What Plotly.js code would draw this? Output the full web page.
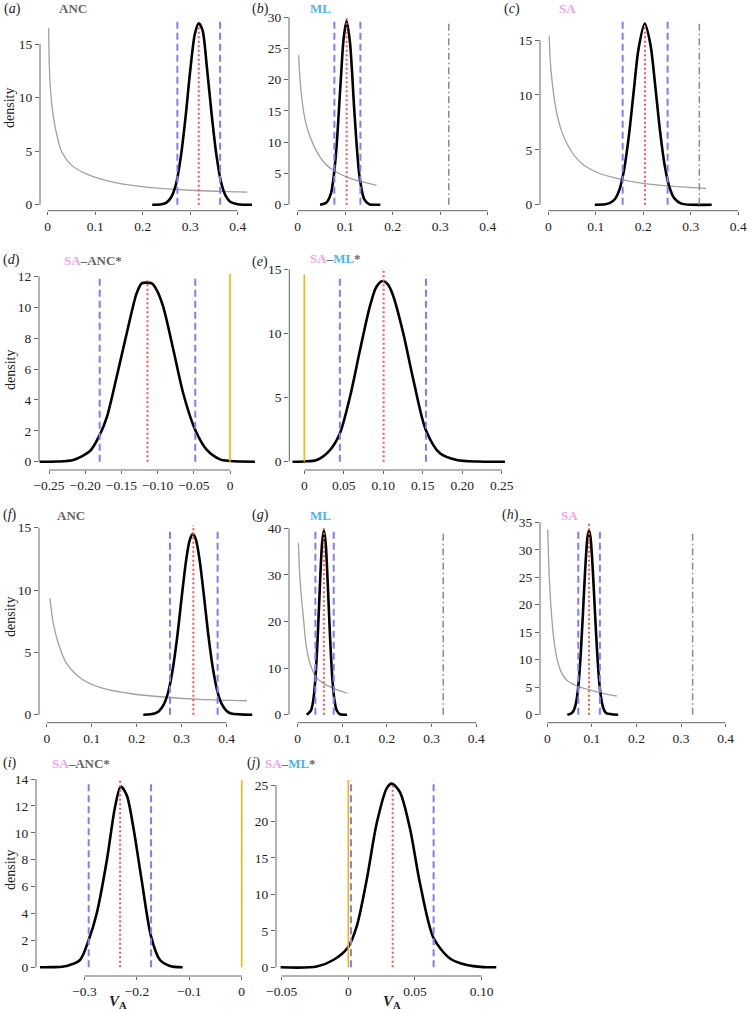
<!DOCTYPE html>
<html><head><meta charset="utf-8">
<script src="https://cdn.plot.ly/plotly-3.0.1.min.js"></script>
<style>html,body{margin:0;padding:0;background:#fff}</style>
</head><body><div id="chart" style="width:756px;height:1013px"></div>
<script>
// ---------- data ----------
// (a) ANC
const aPostX = [0.22,0.24,0.25,0.26,0.27,0.28,0.29,0.30,0.31,0.318,0.326,0.335,0.345,0.355,0.365,0.375,0.385,0.40,0.43];
const aPostY = [0,0.05,0.2,0.7,1.9,4.4,8.1,12.5,16.0,16.95,16.3,12.9,8.5,4.7,2.1,0.8,0.25,0.05,0];
const aPriorX = [0.002,0.005,0.012,0.022,0.03,0.05,0.08,0.12,0.17,0.23,0.30,0.36,0.42];
const aPriorY = [16.5,11.3,8.2,6.0,4.9,3.7,2.9,2.3,1.85,1.55,1.35,1.25,1.18];
const aCI = [0.273,0.363]; const aMean = 0.318;
// (b) ML
const bPostX = [0.047,0.06,0.07,0.08,0.09,0.097,0.103,0.11,0.12,0.13,0.14,0.15,0.174];
const bPostY = [0,0.3,1.8,7.6,19.1,26.8,29.4,26,14.1,4.6,0.9,0.1,0];
const bPriorX = [0.002,0.005,0.012,0.019,0.026,0.04,0.0575,0.075,0.11,0.145,0.166];
const bPriorY = [23.9,20,15.1,12.5,10.9,8.5,6.6,5.5,4.2,3.5,3.1];
const bCI = [0.0772,0.132]; const bMean = 0.103; const bRef = 0.318;
// (c) SA
const cPostX = [0.098,0.12,0.13,0.14,0.15,0.16,0.17,0.18,0.19,0.203,0.215,0.225,0.235,0.245,0.255,0.265,0.28,0.344];
const cPostY = [0,0.04,0.16,0.5,1.4,3.3,6.4,10.4,14.2,16.5,14.6,10.9,6.8,3.6,1.6,0.6,0.1,0];
const cPriorX = [0.002,0.004,0.008,0.013,0.019,0.028,0.04,0.056,0.075,0.1,0.13,0.17,0.228,0.28,0.332];
const cPriorY = [15.4,13.2,11.2,9.5,8.1,6.7,5.5,4.4,3.6,3.0,2.55,2.15,1.8,1.62,1.49];
const cCI = [0.1565,0.2512]; const cMean = 0.2035; const cRef = 0.318;
// (d) SA-ANC
const dPostX = [-0.263,-0.24,-0.2164,-0.193,-0.18,-0.17,-0.1565,-0.1427,-0.129,-0.122,-0.115,-0.108,-0.101,-0.092,-0.078,-0.0645,-0.048,-0.032,-0.0138,0.0,0.0345];
const dPostY = [0,0.01,0.11,0.71,1.73,2.9,5.5,8.3,10.9,11.55,11.6,11.55,11.1,10.0,7.2,4.4,2.05,0.76,0.15,0.05,0];
const dCI = [-0.18,-0.048]; const dMean = -0.114;
// (e) SA-ML
const ePostX = [-0.015,0.0,0.0157,0.0325,0.045,0.058,0.0705,0.083,0.091,0.099,0.106,0.1127,0.1253,0.138,0.1537,0.1718,0.193,0.22,0.254];
const ePostY = [0,0.02,0.13,0.91,2.2,5.1,8.7,12.1,13.6,14.08,13.8,12.9,10.0,6.4,2.5,0.65,0.13,0.01,0];
const eCI = [0.045,0.154]; const eMean = 0.1004;
// (f) ANC
const fPostX = [0.2147,0.24,0.25,0.26,0.27,0.28,0.29,0.30,0.31,0.318,0.325,0.332,0.34,0.35,0.36,0.37,0.38,0.39,0.40,0.41,0.457];
const fPostY = [0,0.1,0.3,0.8,1.8,3.6,6.2,9.4,12.4,14.0,14.5,14.0,12.4,9.4,6.2,3.6,1.8,0.8,0.3,0.1,0];
const fPriorX = [0.007,0.0145,0.0256,0.044,0.081,0.118,0.192,0.267,0.341,0.445];
const fPriorY = [9.33,7.33,5.73,4.12,2.78,2.2,1.66,1.4,1.23,1.12];
const fCI = [0.274,0.380]; const fMean = 0.326;
// (g) ML
const gPostX = [0.0206,0.03,0.035,0.04,0.045,0.05,0.055,0.059,0.063,0.068,0.073,0.078,0.083,0.088,0.095,0.111];
const gPostY = [0,0.9,2.9,7.7,16.3,27.4,36.8,39.6,36.8,27.4,16.3,7.7,2.9,0.9,0.1,0];
const gPriorX = [0.002,0.005,0.009,0.013,0.02,0.028,0.043,0.06,0.08,0.111];
const gPriorY = [36.8,30,25,21,14.5,11,7.9,6.6,5.7,4.6];
const gCI = [0.04,0.081]; const gMean = 0.059; const gRef = 0.326;
// (h) SA
const hPostX = [0.045,0.055,0.06,0.065,0.07,0.075,0.08,0.085,0.09,0.0935,0.097,0.102,0.107,0.112,0.117,0.122,0.127,0.132,0.159];
const hPostY = [0,0.3,0.9,2.4,5.5,11.1,18.5,26.4,32.2,33.5,32.2,26.4,18.5,11.1,5.5,2.4,0.9,0.3,0];
const hPriorX = [0.001,0.0045,0.0099,0.015,0.021,0.03,0.0433,0.065,0.0956,0.125,0.156];
const hPriorY = [33.7,25.0,17.8,13.5,10.5,8.0,6.3,5.3,4.5,3.9,3.4];
const hCI = [0.0695,0.118]; const hMean = 0.0935; const hRef = 0.326;
// (i) SA-ANC
const iPostX = [-0.385,-0.36,-0.334,-0.3086,-0.292,-0.2767,-0.2576,-0.2418,-0.231,-0.2195,-0.207,-0.191,-0.173,-0.156,-0.137,-0.1127];
const iPostY = [0,0.01,0.1,0.54,2.03,4.0,7.9,11.9,13.43,12.8,10.45,6.5,2.3,0.54,0.1,0];
const iCI = [-0.292,-0.173]; const iMean = -0.232;
// (j) SA-ML
const jPostX = [-0.0508,-0.0237,-0.0113,0,0.0063,0.0138,0.0213,0.0288,0.0326,0.0388,0.0463,0.0538,0.064,0.0763,0.0888,0.1013,0.111];
const jPostY = [0,0.1,1.0,2.8,5.6,12.0,19.75,24.55,25.2,24.0,19.0,11.5,4.0,1.2,0.3,0.02,0];
const jCI = [0.002,0.064]; const jMean = 0.0333;

// line heights (tops of vertical reference lines): [ci, mean, ref/zero]
const lineTops = {
  a:[17.3,16.8,0], b:[29.6,30,29], c:[16.75,16.4,16.6], d:[12.1,11.75,12.15], e:[14.6,15.1,14.6],
  f:[15,15.2,0], g:[40,40,39], h:[34,35,33.1], i:[13.9,13.9,13.9], j:[25.7,25,25.7]
};

// ticks
const xTicks04 = [0,0.1,0.2,0.3,0.4]; const xLab04 = ["0","0.1","0.2","0.3","0.4"];
const xTicksD = [-0.25,-0.2,-0.15,-0.1,-0.05,0]; const xLabD = ["\u22120.25","\u22120.20","\u22120.15","\u22120.10","\u22120.05","0"];
const xTicksE = [0,0.05,0.1,0.15,0.2,0.25]; const xLabE = ["0","0.05","0.10","0.15","0.20","0.25"];
const xTicksI = [-0.3,-0.2,-0.1,0]; const xLabI = ["\u22120.3","\u22120.2","\u22120.1","0"];
const xTicksJ = [-0.05,0,0.05,0.1]; const xLabJ = ["\u22120.05","0","0.05","0.10"];
const yTicksA = [0,5,10,15]; const yTicksB = [0,5,10,15,20,25,30]; const yTicksD = [0,2,4,6,8,10,12];
const yTicksG = [0,10,20,30,40]; const yTicksH = [0,5,10,15,20,25,30,35]; const yTicksI = [0,2,4,6,8,10,12,14];
const yTicksJ = [0,5,10,15,20,25];

// ---------- layout geometry (pixels) ----------
const W = 756, H = 1013;
const panels = [
 {k:'a', L:40,  R:260, T:15,  B:210.7, x0:47.7,  xs:475,  y0:204.7, ys:10.7,  xt:xTicks04, xl:xLab04, yt:yTicksA, post:[aPostX,aPostY], prior:[aPriorX,aPriorY], ci:aCI, mean:aMean},
 {k:'b', L:289, R:510, T:15,  B:210.7, x0:297.7, xs:475,  y0:204.7, ys:6.25,  xt:xTicks04, xl:xLab04, yt:yTicksB, post:[bPostX,bPostY], prior:[bPriorX,bPriorY], ci:bCI, mean:bMean, ref:bRef},
 {k:'c', L:540, R:756, T:15,  B:210.7, x0:548.3, xs:475,  y0:204.7, ys:10.98, xt:xTicks04, xl:xLab04, yt:yTicksA, post:[cPostX,cPostY], prior:[cPriorX,cPriorY], ci:cCI, mean:cMean, ref:cRef},
 {k:'d', L:39,  R:258, T:268, B:470,   x0:230,   xs:724,  y0:461.7, ys:15.44, xt:xTicksD, xl:xLabD, yt:yTicksD, post:[dPostX,dPostY], ci:dCI, mean:dMean, zero:0},
 {k:'e', L:289.3,R:510,T:265, B:470,   x0:304.3, xs:790,  y0:461.7, ys:12.83, xt:xTicksE, xl:xLabE, yt:yTicksA, post:[ePostX,ePostY], ci:eCI, mean:eMean, zero:0},
 {k:'f', L:39,  R:258, T:520, B:722.7, x0:46.8,  xs:449.5,y0:714.7, ys:12.47, xt:xTicks04, xl:xLab04, yt:yTicksA, post:[fPostX,fPostY], prior:[fPriorX,fPriorY], ci:fCI, mean:fMean},
 {k:'g', L:289, R:510, T:520, B:722.7, x0:297.5, xs:447,  y0:714.7, ys:4.66,  xt:xTicks04, xl:xLab04, yt:yTicksG, post:[gPostX,gPostY], prior:[gPriorX,gPriorY], ci:gCI, mean:gMean, ref:gRef},
 {k:'h', L:540, R:756, T:520, B:722.7, x0:547.3, xs:445.8,y0:714.7, ys:5.497, xt:xTicks04, xl:xLab04, yt:yTicksH, post:[hPostX,hPostY], prior:[hPriorX,hPriorY], ci:hCI, mean:hMean, ref:hRef},
 {k:'i', L:36,  R:258, T:775, B:976,   x0:241.7, xs:524,  y0:967.3, ys:13.45, xt:xTicksI, xl:xLabI, yt:yTicksI, post:[iPostX,iPostY], ci:iCI, mean:iMean, zero:0},
 {k:'j', L:276, R:505, T:775, B:976,   x0:348.3, xs:1333, y0:967.3, ys:7.29,  xt:xTicksJ, xl:xLabJ, yt:yTicksJ, post:[jPostX,jPostY], ci:jCI, mean:jMean, zero:0}
];

const SERIF = 'Liberation Serif, Times New Roman, Times, serif';
const AX = '#666666';
const BLUE = '#7f7dfb', RED = '#f25555', ORANGE = '#f7b500', PRIOR = '#a0a0a0', REFC = '#8a8a8a';

const traces = [], shapes = [], annotations = [];
const layout = {width:W, height:H, margin:{l:0,r:0,t:0,b:0}, showlegend:false,
  paper_bgcolor:'#fff', plot_bgcolor:'rgba(0,0,0,0)', font:{family:SERIF, color:'#222'}};

panels.forEach((p, idx) => {
  const n = idx + 1, sfx = n === 1 ? '' : String(n);
  const xa = 'x' + sfx, ya = 'y' + sfx;
  const tops = lineTops[p.k];
  layout['xaxis' + sfx] = {
    domain:[p.L / W, p.R / W], range:[(p.L - p.x0) / p.xs, (p.R - p.x0) / p.xs],
    anchor:ya, showgrid:false, zeroline:false, showline:false,
    ticks:'outside', ticklen:3, tickcolor:AX, tickwidth:1,
    tickmode:'array', tickvals:p.xt, ticktext:p.xl,
    tickfont:{family:SERIF, size:13.5, color:'#222'}, fixedrange:true
  };
  layout['yaxis' + sfx] = {
    domain:[1 - p.B / H, 1 - p.T / H], range:[(p.y0 - p.B) / p.ys, (p.y0 - p.T) / p.ys],
    anchor:xa, showgrid:false, zeroline:false, showline:false,
    ticks:'outside', ticklen:4, tickcolor:AX, tickwidth:1,
    tickmode:'array', tickvals:p.yt, ticktext:p.yt.map(String),
    tickfont:{family:SERIF, size:13.5, color:'#222'}, fixedrange:true
  };
  // R-style axis lines spanning first..last tick
  shapes.push({type:'line', xref:xa, yref:ya + ' domain', x0:p.xt[0], x1:p.xt[p.xt.length-1], y0:0, y1:0, line:{color:AX, width:1}});
  shapes.push({type:'line', xref:xa + ' domain', yref:ya, x0:0, x1:0, y0:p.yt[0], y1:p.yt[p.yt.length-1], line:{color:AX, width:1}});

  if (p.prior) traces.push({x:p.prior[0], y:p.prior[1], xaxis:xa, yaxis:ya, mode:'lines',
    line:{color:PRIOR, width:1.3, shape:'spline', smoothing:1}, hoverinfo:'skip'});
  traces.push({x:p.post[0], y:p.post[1], xaxis:xa, yaxis:ya, mode:'lines',
    line:{color:'#000', width:2.6, shape:'spline', smoothing:0.8}, hoverinfo:'skip'});
  p.ci.forEach(v => traces.push({x:[v, v], y:[0, tops[0]], xaxis:xa, yaxis:ya, mode:'lines',
    line:{color:BLUE, width:2, dash:'7px,4px'}, hoverinfo:'skip'}));
  traces.push({x:[p.mean, p.mean], y:[0, tops[1]], xaxis:xa, yaxis:ya, mode:'lines',
    line:{color:RED, width:2, dash:'2px,2.5px'}, hoverinfo:'skip'});
  if (p.ref !== undefined) traces.push({x:[p.ref, p.ref], y:[0, tops[2]], xaxis:xa, yaxis:ya, mode:'lines',
    line:{color:REFC, width:1.5, dash:'7px,3px,1.5px,3px'}, hoverinfo:'skip'});
  if (p.zero !== undefined) traces.push({x:[p.zero, p.zero], y:[0, tops[2]], xaxis:xa, yaxis:ya, mode:'lines',
    line:{color:ORANGE, width:1.6}, hoverinfo:'skip'});
});

function ann(text, xpx, ypx, size, extra) {
  return Object.assign({xref:'paper', yref:'paper', x:xpx / W, y:1 - ypx / H, xanchor:'left', yanchor:'middle',
    showarrow:false, text:text, font:{family:SERIF, size:size, color:'#222'}}, extra || {});
}
const SA = '<span style="color:#f0a3e8">SA</span>';
const ML = '<span style="color:#4fb2ef">ML</span>';
const ANCc = '#666666';
const letters = [['a',2,9],['b',250,9],['c',502,9],['d',1,260],['e',250,262],['f',1,515],['g',250,515],['h',500,515],['i',1,763],['j',245,763]];
letters.forEach(l => annotations.push(ann('(<i>' + l[0] + '</i>)', l[1], l[2], 14)));
const titles = [
  ['<b>ANC</b>', 57, 8, ANCc], ['<b>' + ML + '</b>', 308, 8], ['<b>' + SA + '</b>', 557, 8],
  ['<b>' + SA + '–ANC*</b>', 62, 260, ANCc], ['<b>' + SA + '–' + ML + '*</b>', 308, 258, ANCc],
  ['<b>ANC</b>', 55, 515, ANCc], ['<b>' + ML + '</b>', 308, 515], ['<b>' + SA + '</b>', 559, 515],
  ['<b>' + SA + '–ANC*</b>', 50, 763, ANCc], ['<b>' + SA + '–' + ML + '*</b>', 263, 763, ANCc]
];
titles.forEach(t => annotations.push(ann(t[0], t[1], t[2], 13, {font:{family:SERIF, size:13, color:t[3] || '#222'}})));
[108, 370, 617, 870].forEach(y => annotations.push(ann('density', 10, y, 14, {xanchor:'center', textangle:-90})));
[118, 392].forEach(x => annotations.push(ann('<b><i>V</i><sub>A</sub></b>', x, 1002, 15, {xanchor:'center'})));

layout.shapes = shapes;
layout.annotations = annotations;
Plotly.newPlot('chart', traces, layout, {staticPlot:true, displayModeBar:false});
</script></body></html>
